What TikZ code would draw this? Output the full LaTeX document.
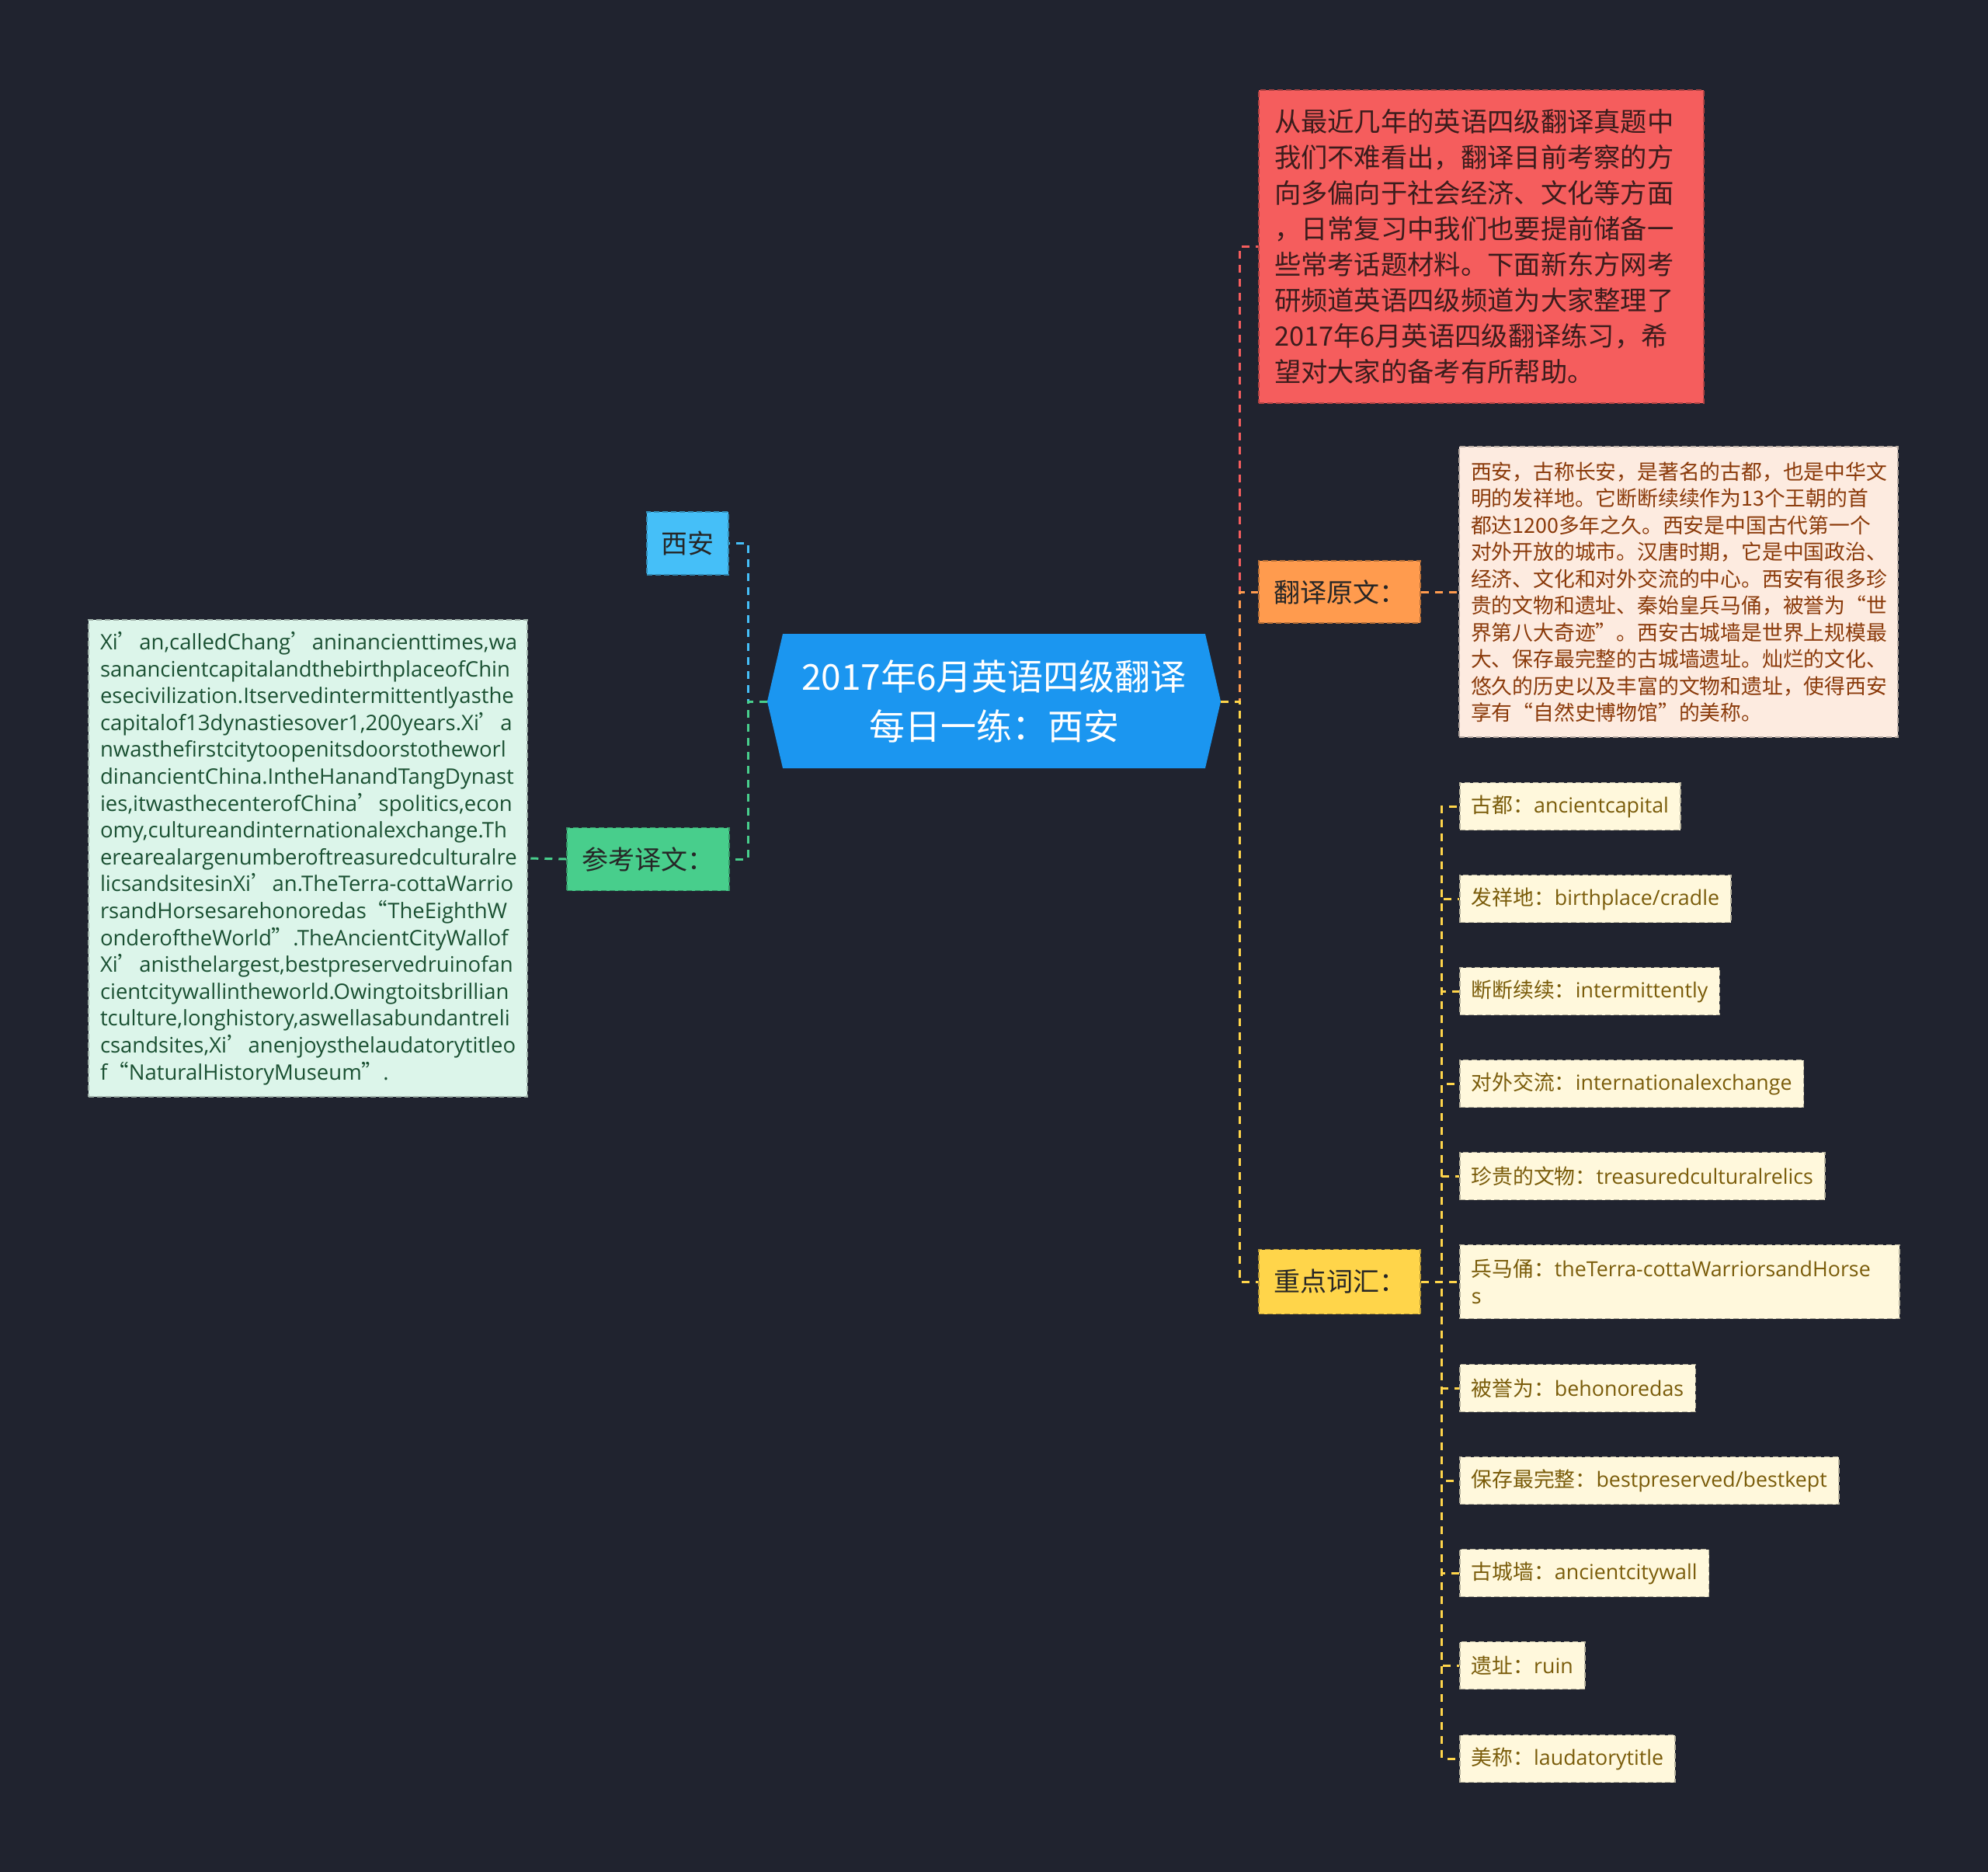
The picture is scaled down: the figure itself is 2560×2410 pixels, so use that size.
\documentclass[tikz,border=0pt]{standalone}
\usepackage{fontspec}
\setmainfont{Noto Sans CJK SC}
\newfontfamily\lat{Open Sans}
\newfontfamily\cjq[RawFeature=+fwid]{Noto Sans CJK SC}
\newcommand\qq[1]{{\cjq #1}}
\usetikzlibrary{calc}
\definecolor{bg}{HTML}{20232F}
\definecolor{cblue}{HTML}{1B96F0}
\definecolor{lblue}{HTML}{45BFF8}
\definecolor{lgreen}{HTML}{48CE8C}
\definecolor{mint}{HTML}{DCF5EA}
\definecolor{mintt}{HTML}{1A5032}
\definecolor{lred}{HTML}{F55D5D}
\definecolor{redt}{HTML}{3B1C1C}
\definecolor{lorange}{HTML}{FF9B4E}
\definecolor{peach}{HTML}{FDEBE0}
\definecolor{peacht}{HTML}{8A3A0A}
\definecolor{lyellow}{HTML}{FFD54A}
\definecolor{silk}{HTML}{FFF8DC}
\definecolor{silkt}{HTML}{7A5C0A}
\definecolor{darkt}{HTML}{262626}
\tikzset{
  lk/.style={line width=3pt, dash pattern=on 10pt off 8pt},
  bx/.style={rectangle, draw=#1!72!black, fill=#1, line width=1.5pt,
    dash pattern=on 7pt off 4pt, inner sep=0pt},
  lab/.style={bx=#1, text=darkt, font=\fontsize{34}{40}\selectfont,
    minimum height=81pt},
  para/.style={font=\fontsize{26.8}{34.5}\selectfont, align=left},
  vb/.style={bx=silk, text=silkt, font=\fontsize{26.8}{34.5}\selectfont,
    inner xsep=15pt, minimum height=61pt, anchor=west},
}
\begin{document}
\begin{tikzpicture}[x=1pt,y=-1pt]
\fill[bg] (0,0) rectangle (2560,2410);
\useasboundingbox (0,0) rectangle (2560,2410);

% central node
\coordinate (cL) at (988,903);
\coordinate (cR) at (1572,903);
\fill[cblue] (1008,816) -- (1552,816) -- (cR) -- (1552,989) -- (1008,989) -- (cL) -- cycle;
\node[text=white, align=center, font=\fontsize{46}{64}\selectfont] (c) at (1280,903)
  {2017年6月英语四级翻译\\每日一练：西安};

% left branch
\node[lab=lblue, minimum width=105pt] (xian) at (885.5,699.5) {西安};
\node[lab=lgreen, minimum width=209pt] (ref) at (834.5,1106) {参考译文：};
\node[bx=mint, para, text=mintt, text width=535pt, inner xsep=15pt,
  minimum height=614pt, font=\lat\fontsize{27.5}{34.6}\selectfont] (eng) at (396.5,1105) {%
Xi\qq{’}an,calledChang\qq{’}aninancienttimes,wa\\
sanancientcapitalandthebirthplaceofChin\\
esecivilization.Itservedintermittentlyasthe\\
capitalof13dynastiesover1,200years.Xi\qq{’}a\\
nwasthefirstcitytoopenitsdoorstotheworl\\
dinancientChina.IntheHanandTangDynast\\
ies,itwasthecenterofChina\qq{’}spolitics,econ\\
omy,cultureandinternationalexchange.Th\\
erearealargenumberoftreasuredculturalre\\
licsandsitesinXi\qq{’}an.TheTerra-cottaWarrio\\
rsandHorsesarehonoredas\qq{“}TheEighthW\\
onderoftheWorld\qq{”}.TheAncientCityWallof\\
Xi\qq{’}anisthelargest,bestpreservedruinofan\\
cientcitywallintheworld.Owingtoitsbrillian\\
tculture,longhistory,aswellasabundantreli\\
csandsites,Xi\qq{’}anenjoysthelaudatorytitleo\\
f\qq{“}NaturalHistoryMuseum\qq{”}.};

% right branch
\node[bx=lred, text=redt, align=left, text width=533pt, inner xsep=20pt,
  minimum height=403pt, font=\fontsize{34.3}{46}\selectfont] (red) at (1907.5,317.5) {%
从最近几年的英语四级翻译真题中\\
我们不难看出，翻译目前考察的方\\
向多偏向于社会经济、文化等方面\\
，日常复习中我们也要提前储备一\\
些常考话题材料。下面新东方网考\\
研频道英语四级频道为大家整理了\\
2017年6月英语四级翻译练习，希\\
望对大家的备考有所帮助。};

\node[lab=lorange, minimum width=208pt, minimum height=80pt] (orig) at (1725,762) {翻译原文：};
\node[bx=peach, para, text=peacht, text width=535pt, inner xsep=15pt,
  minimum height=374pt] (peachbox) at (2161.5,762) {%
西安，古称长安，是著名的古都，也是中华文\\
明的发祥地。它断断续续作为13个王朝的首\\
都达1200多年之久。西安是中国古代第一个\\
对外开放的城市。汉唐时期，它是中国政治、\\
经济、文化和对外交流的中心。西安有很多珍\\
贵的文物和遗址、秦始皇兵马俑，被誉为“世\\
界第八大奇迹”。西安古城墙是世界上规模最\\
大、保存最完整的古城墙遗址。灿烂的文化、\\
悠久的历史以及丰富的文物和遗址，使得西安\\
享有“自然史博物馆”的美称。};

\node[lab=lyellow, minimum width=208pt, minimum height=83pt] (key) at (1725,1650) {重点词汇：};

\node[vb] (v1) at (1879,1038) {古都：{\lat ancientcapital}};
\node[vb] (v2) at (1879,1157) {发祥地：{\lat birthplace/cradle}};
\node[vb] (v3) at (1879,1276) {断断续续：{\lat intermittently}};
\node[vb] (v4) at (1879,1395) {对外交流：{\lat internationalexchange}};
\node[vb] (v5) at (1879,1514) {珍贵的文物：{\lat treasuredculturalrelics}};
\node[vb, text width=536pt, align=left, minimum height=95pt] (v6) at (1879,1650)
  {兵马俑：{\lat theTerra-cottaWarriorsandHorse}\\{\lat s}};
\node[vb] (v7) at (1879,1787) {被誉为：{\lat behonoredas}};
\node[vb] (v8) at (1879,1906) {保存最完整：{\lat bestpreserved/bestkept}};
\node[vb] (v9) at (1879,2025) {古城墙：{\lat ancientcitywall}};
\node[vb] (v10) at (1879,2144) {遗址：{\lat ruin}};
\node[vb] (v11) at (1879,2264) {美称：{\lat laudatorytitle}};

% connectors
\draw[lk, lblue] (cL) -- ++(-25,0) |- (xian.east);
\draw[lk, lgreen] (cL) -- ++(-25,0) |- (ref.east);
\draw[lk, lgreen] (ref.west) -- (eng.east);
\draw[lk, lred] (cR) -- ++(24,0) |- (red.west);
\draw[lk, lorange] (cR) -- ++(24,0) |- (orig.west);
\draw[lk, lyellow] (cR) -- ++(24,0) |- (key.west);
\draw[lk, lorange] (orig.east) -- (peachbox.west);
\foreach \v in {v1,v2,v3,v4,v5,v6,v7,v8,v9,v10,v11}
  \draw[lk, lyellow] (key.east) -- ++(27,0) |- (\v.west);
\end{tikzpicture}
\end{document}
